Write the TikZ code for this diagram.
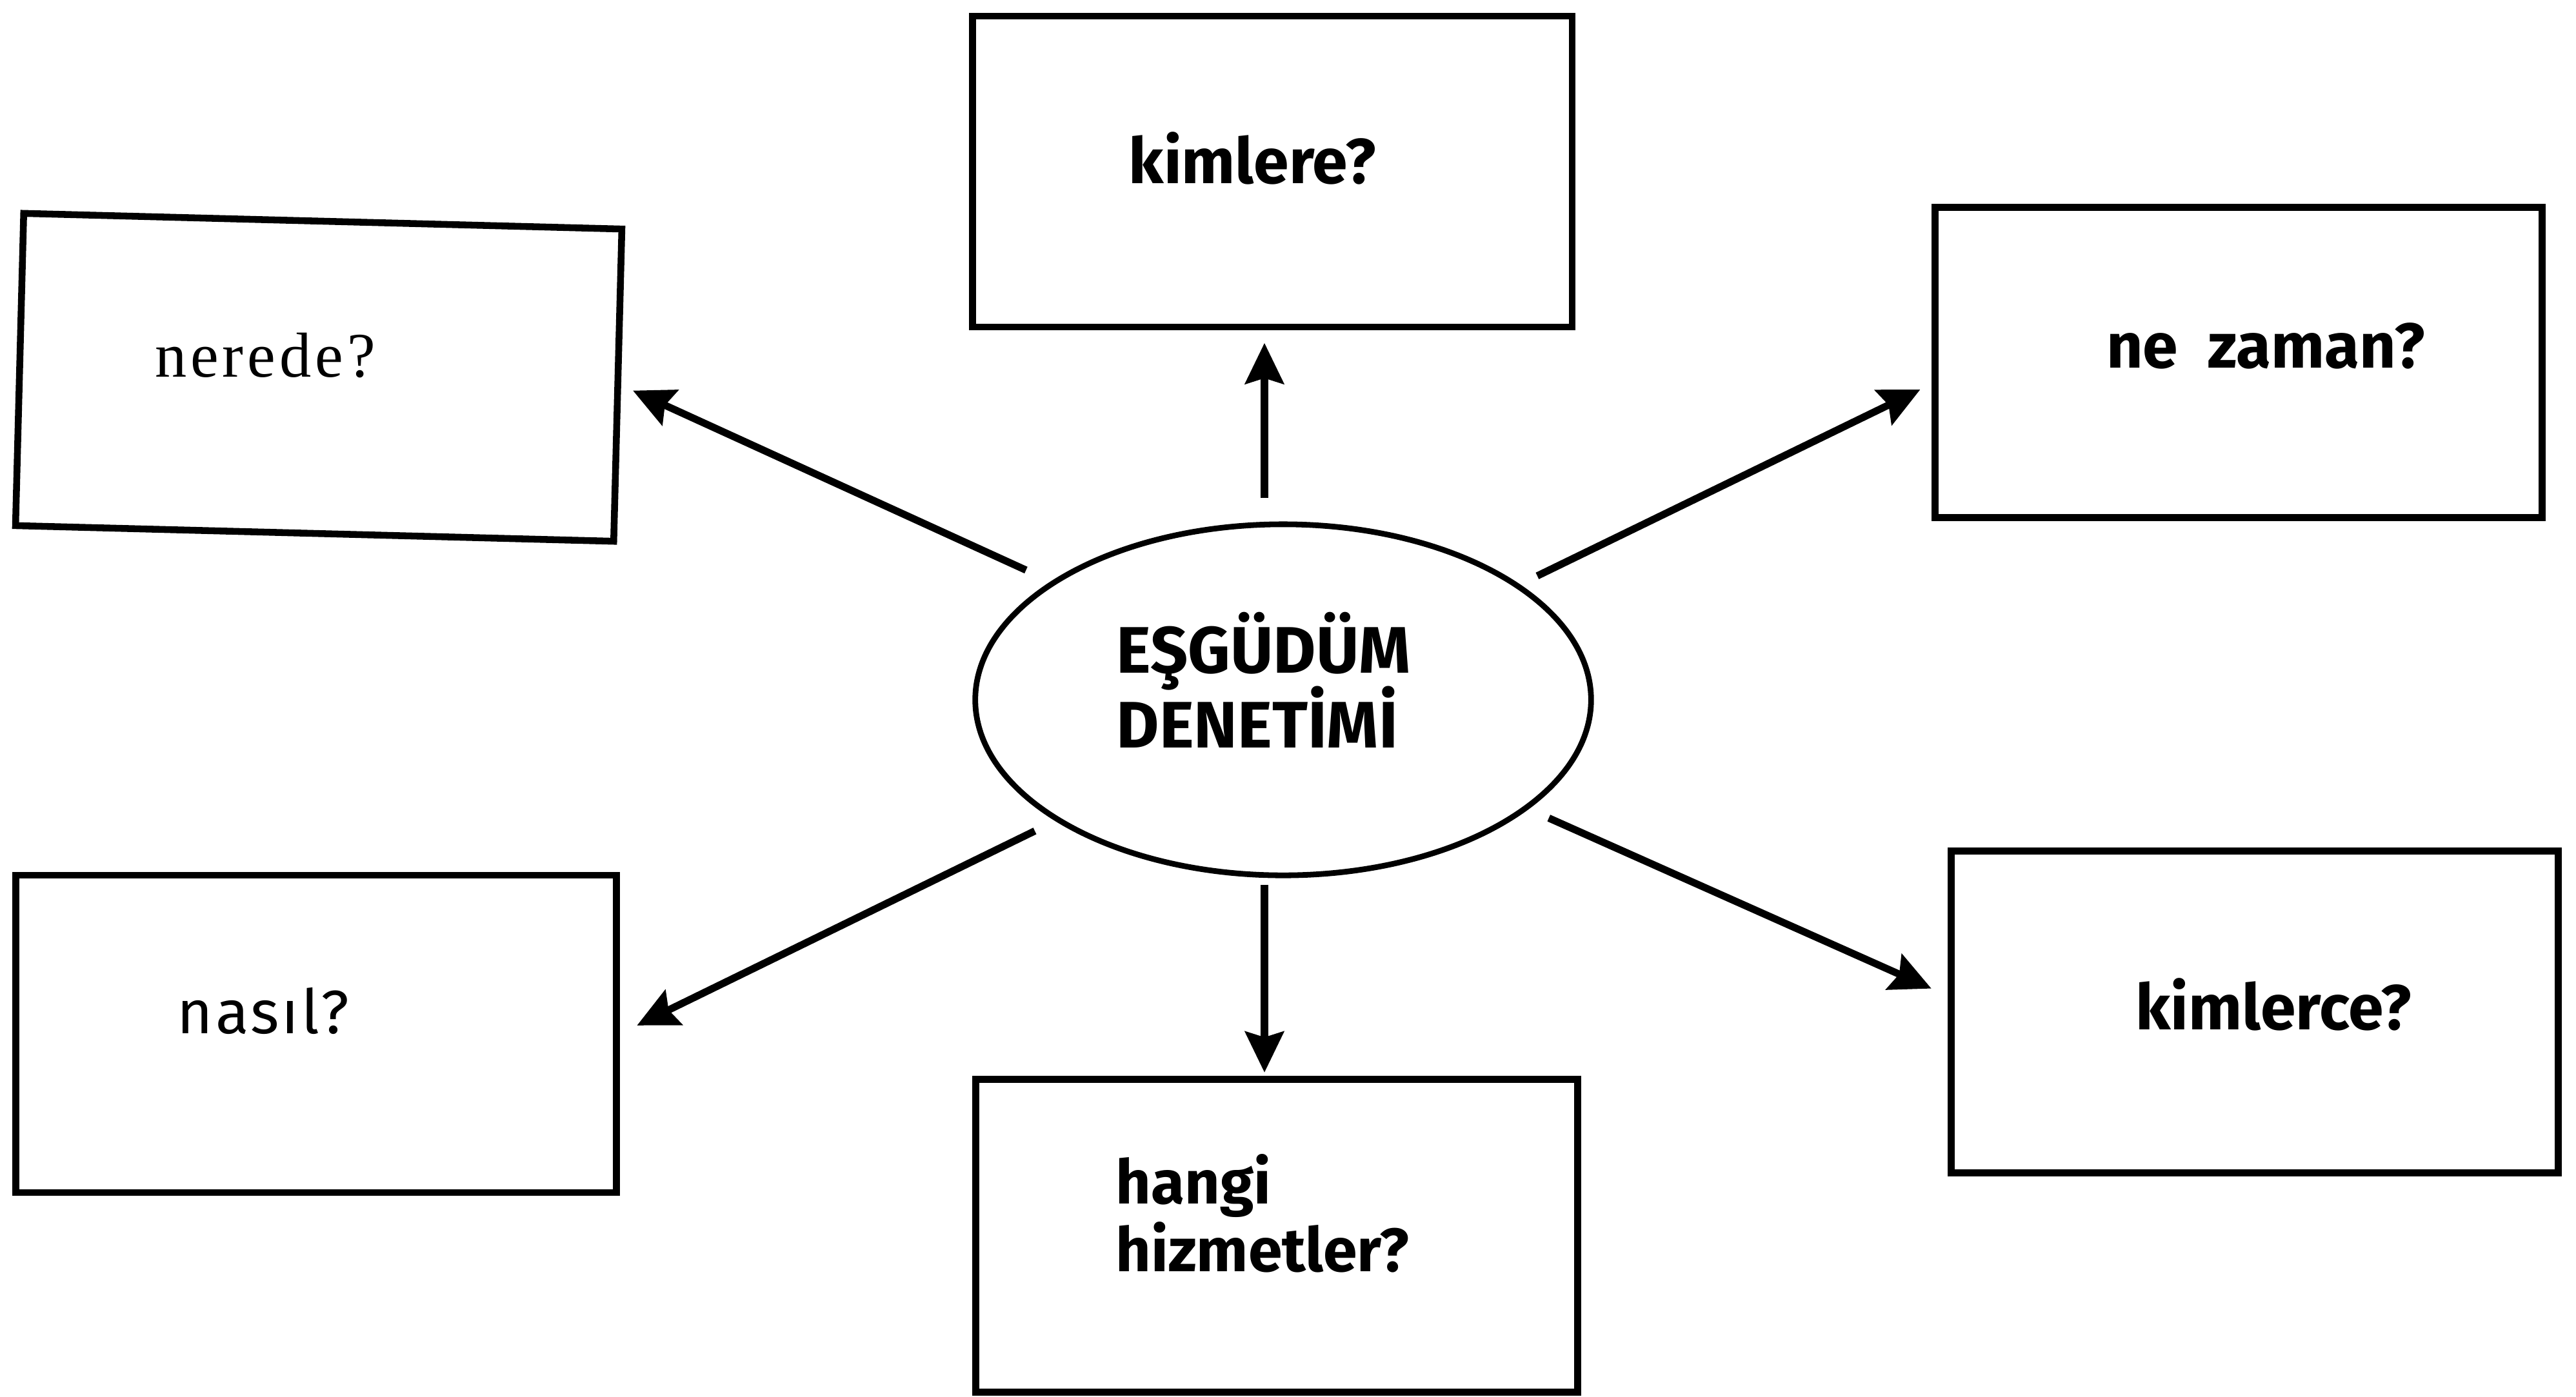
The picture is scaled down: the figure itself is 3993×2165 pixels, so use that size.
\documentclass[tikz,border=0pt]{standalone}
\usepackage{fontspec}
\setmainfont{Fira Sans}
\newfontfamily\serifx{Liberation Serif}
\usetikzlibrary{arrows.meta,shapes.geometric}
\begin{document}
\begin{tikzpicture}[x=0.01cm,y=-0.01cm,
  box/.style={draw,line width=3pt,inner sep=0pt,minimum width=9.3cm,minimum height=4.85cm},
  arr/.style={line width=3.2pt,-{Stealth[length=18pt,width=17pt,inset=2.5pt]}},
  lbl/.style={font=\bfseries\fontsize{28}{32}\selectfont,anchor=base,inner sep=0pt},
  lblw/.style={font=\bfseries\fontsize{27}{30}\selectfont,anchor=base west,inner sep=0pt},
  ctr/.style={font=\bfseries\fontsize{29}{33}\selectfont,anchor=base west,inner sep=0pt}]
\useasboundingbox (0,0) rectangle (3993,2165);

% boxes
\node[box,minimum width=9.29cm,minimum height=4.82cm] (kim) at (1972,266) {};
\node[box,minimum width=9.27cm,minimum height=4.84cm,rotate=-1.5] (ner) at (494,585) {};
\node[box,minimum width=9.40cm,minimum height=4.81cm] (zam) at (3470,562) {};
\node[box,minimum width=9.40cm,minimum height=4.99cm] (kce) at (3495,1569) {};
\node[box,minimum width=9.30cm,minimum height=4.92cm] (nas) at (490,1603) {};
\node[box,minimum width=9.32cm,minimum height=4.85cm] (han) at (1979,1916) {};

% centre ellipse
\node[draw,ellipse,line width=2.5pt,inner sep=0pt,minimum width=9.54cm,minimum height=5.44cm] (ell) at (1989,1085) {};
\node[ctr] (tell1) at (1730,1043) {EŞGÜDÜM};
\node[ctr] (tell2) at (1730,1159) {DENETİMİ};

% labels
\node[lbl] (tkim) at (1941,284) {kimlere?};
\node[lbl,font=\serifx\fontsize{28}{32}\selectfont\addfontfeatures{LetterSpace=6}] (tner) at (411,584) {nerede?};
\node[lbl] (tzam) at (3512,570) {ne\ \ zaman?};
\node[lbl] (tkce) at (3524,1596) {kimlerce?};
\node[lbl,font=\fontsize{27}{32}\selectfont\addfontfeatures{LetterSpace=4}] (tnas) at (408,1602) {nasıl?};
\node[lblw] (than1) at (1729,1866) {hangi};
\node[lblw] (than2) at (1729,1971) {hizmetler?};

% arrows
\draw[arr,shorten <=10.5pt,shorten >=5.5pt] (ell.96.7) -- (ell.96.7 |- kim.south);
\draw[arr,shorten <=12pt,shorten >=5.7pt] (ell.153.4) -- (ner.east);
\draw[arr,shorten <=8.5pt,shorten >=5.7pt] (ell.26.8) -- (zam.184.4);
\draw[arr,shorten <=10pt,shorten >=8.5pt] (ell.208.4) -- (nas.east);
\draw[arr,shorten <=3pt,shorten >=1.5pt] (ell.264.7) -- (ell.264.7 |- han.north);
\draw[arr,shorten <=9.7pt,shorten >=8pt] (ell.-24.3) -- (kce.177.2);
\end{tikzpicture}
\end{document}
